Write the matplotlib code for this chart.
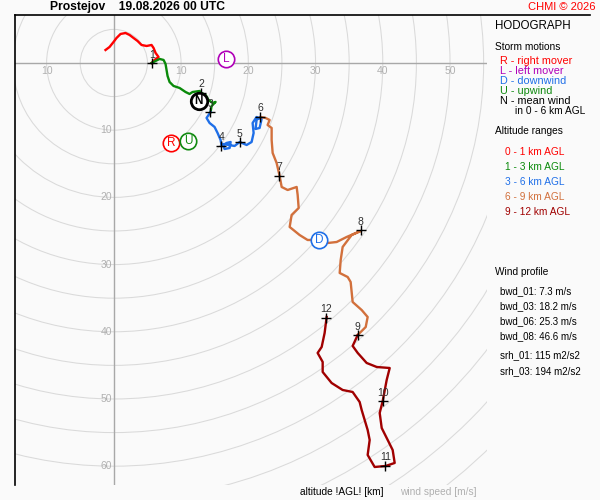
import matplotlib
matplotlib.use("Agg")
import matplotlib.pyplot as plt
from matplotlib.patches import Circle
from matplotlib.lines import Line2D

plt.rcParams['font.family'] = ['Liberation Sans', 'DejaVu Sans']

station = "Prostejov"
run_time = "19.08.2026 00 UTC"

# hodograph traces (u, v) in m/s, one pair per altitude range
u_0_1 = [-1.24, -0.64, -0.04, 0.40, 1.00, 1.74, 2.34, 2.93, 3.53, 4.12, 4.87, 5.61, 5.91, 6.21, 6.65, 6.06, 5.61]
v_0_1 = [1.93, 2.38, 3.13, 3.72, 4.32, 4.46, 4.17, 3.72, 3.27, 2.68, 2.53, 2.68, 2.23, 1.49, 0.89, 0.45, 0.0]

u_1_3 = [5.61, 6.2, 6.8, 7.4, 7.69, 7.84, 7.99, 8.29, 8.88, 9.78, 10.67, 11.26, 11.71, 12.75, 13.05,
         13.65, 14.09, 14.69, 15.13, 14.54, 14.39]
v_1_3 = [0.0, 0.3, 0.6, 0.45, -0.15, -1.04, -1.93, -2.83, -3.42, -3.72, -4.32, -4.61, -4.32, -4.17, -4.46,
         -4.76, -5.51, -5.95, -5.8, -6.4, -7.29]

u_3_6 = [14.39, 13.79, 14.24, 14.98, 15.43, 15.88, 16.03, 16.77, 17.37, 17.22, 16.47, 16.18, 17.07, 17.96,
         18.71, 19.75, 20.49, 20.79, 20.64, 21.23, 21.98, 21.68, 21.08, 21.23, 21.82]
v_3_6 = [-7.29, -8.18, -8.93, -9.52, -10.42, -11.46, -12.35, -11.9, -11.76, -12.65, -12.8, -12.05, -12.2, -12.35,
         -11.76, -12.2, -11.76, -10.42, -8.93, -8.04, -8.33, -9.67, -9.82, -8.48, -8.04]

u_6_9 = [21.83, 22.57, 23.17, 22.87, 23.47, 23.47, 23.62, 24.21, 24.66, 24.96, 25.85, 27.19, 27.34, 27.49,
         26.44, 26.15, 27.63, 28.82, 30.46, 31.8, 33.14, 34.63, 36.71, 35.37, 34.03, 33.74, 33.59, 34.78,
         35.22, 35.37, 35.52, 36.86, 37.75, 37.46, 36.27]
v_6_9 = [-8.04, -8.18, -8.48, -9.23, -9.67, -11.46, -13.39, -14.88, -16.82, -18.45, -18.9, -18.45, -19.64, -21.58,
         -22.62, -24.4, -25.6, -26.34, -26.34, -26.79, -26.64, -25.89, -25.0, -25.6, -27.38, -29.32, -31.25, -31.85,
         -32.59, -34.08, -35.57, -36.76, -37.8, -39.29, -40.48]

u_9_12 = [36.27, 35.52, 36.27, 37.6, 39.1, 41.03, 40.58, 39.99, 39.54, 39.84, 40.73, 41.47, 41.77, 40.43,
          38.79, 37.75, 38.05, 37.75, 36.86, 36.56, 35.52, 34.03, 32.39, 31.06, 31.06, 30.31, 30.91, 31.35, 31.65]
v_9_12 = [-40.48, -42.11, -43.15, -44.64, -45.24, -45.39, -47.17, -50.3, -52.08, -54.32, -56.1, -57.59, -59.52, -59.97,
          -60.12, -58.33, -56.1, -54.61, -51.64, -50.45, -48.96, -48.66, -47.62, -45.98, -44.49, -43.15, -42.26, -40.18, -37.8]

# wind at every km AGL
km_labels = ["1", "2", "3", "4", "5", "6", "7", "8", "9", "10", "11", "12"]
km_u = [5.65, 13.0, 14.35, 15.98, 18.7, 21.8, 24.6, 36.7, 36.3, 40.0, 40.4, 31.6]
km_v = [-0.04, -4.4, -7.34, -12.3, -11.8, -8.0, -16.8, -24.9, -40.5, -50.3, -59.9, -37.9]

# storm motions
storm_letters = ["R", "U", "L", "N", "D"]
storm_u = [8.54, 11.1, 16.67, 12.6, 30.5]
storm_v = [-11.95, -11.55, 0.64, -5.7, -26.3]
storm_colors = ['#ff0000', '#108a10', '#b000b8', '#000000', '#1f6fe8']

seg_colors = ['#ff0000', '#0a8a0a', '#1f6fe8', '#d2703c', '#a00000']

wind_profile = ["bwd_01: 7.3 m/s", "bwd_03: 18.2 m/s", "bwd_06: 25.3 m/s", "bwd_08: 46.6 m/s"]
helicity = ["srh_01: 115 m2/s2", "srh_03: 194 m2/s2"]

bg = '#fafafa'
fig = plt.figure(figsize=(6, 5), dpi=100, facecolor=bg)
ax = fig.add_axes([15 / 600, 15 / 500, 472 / 600, 470 / 500], facecolor=bg)
ax.set_xlim(-14.7, 55.5)
ax.set_ylim(-62.8, 7.14)
ax.set_xticks([])
ax.set_yticks([])
for s in ['right', 'bottom', 'top']:
    ax.spines[s].set_visible(False)
ax.spines['left'].set_color('black')
ax.spines['left'].set_linewidth(1.2)

# top frame line runs over the side panel too
fig.add_artist(Line2D([15 / 600, 590 / 600], [485 / 500, 485 / 500], color='black', lw=1.2))

# speed rings
for r in range(5, 90, 5):
    ax.add_patch(Circle((0, 0), r, fill=False, color='#dadada', lw=0.75, zorder=1))
ax.axhline(0, color='#a8a8a8', lw=1, zorder=2)
ax.axvline(0, color='#a8a8a8', lw=1, zorder=2)

for t in [-10, 10, 20, 30, 40, 50]:
    ax.text(t, -1.25, str(abs(t)), color='#b0b0b0', fontsize=7.5, ha='center', va='center', zorder=2)
for t in [-10, -20, -30, -40, -50, -60]:
    ax.text(-0.3, t, str(abs(t)), color='#b0b0b0', fontsize=7.5, ha='right', va='center', zorder=2)

# hodograph
traces = [(u_0_1, v_0_1), (u_1_3, v_1_3), (u_3_6, v_3_6), (u_6_9, v_6_9), (u_9_12, v_9_12)]
for (u, v), c in zip(traces, seg_colors):
    ax.plot(u, v, color=c, lw=1.7, zorder=3, solid_joinstyle='round')

ax.scatter(km_u, km_v, marker='+', s=60, color='black', linewidths=1, zorder=5)
for lab, u, v in zip(km_labels, km_u, km_v):
    ax.annotate(lab, (u, v), xytext=(0, 2.5), textcoords='offset points', ha='center', va='bottom',
                fontsize=7.5, color='#303030', zorder=6)

for lab, u, v, c in zip(storm_letters, storm_u, storm_v, storm_colors):
    lw = 2 if lab == "N" else 1.2
    ax.scatter([u], [v], marker='o', s=140, facecolors='white', edgecolors=c, linewidths=lw, zorder=7)
    ax.text(u, v, lab, color=c, fontsize=8.5, ha='center', va='center', zorder=8,
            fontweight='bold' if lab == "N" else 'normal')

# header
fig.text(50 / 600, 1 - 7 / 500, station + "    " + run_time, fontsize=8.7, fontweight='bold',
         ha='left', va='center')
fig.text(596 / 600, 1 - 7 / 500, "CHMI \u00a9 2026", fontsize=8, color='#ff0000', ha='right', va='center')

# side panel
def side(x, y, s, c='black', size=7.3):
    fig.text(x / 600, 1 - y / 500, s, color=c, fontsize=size, ha='left', va='center')

side(495, 26, "HODOGRAPH", size=8.3)
side(495, 47, "Storm motions")
side(500, 61, "R - right mover", '#ff0000', 7.8)
side(500, 71, "L - left mover", '#b000b8', 7.8)
side(500, 81, "D - downwind", '#1f6fe8', 7.8)
side(500, 91, "U - upwind", '#108a10', 7.8)
side(500, 101, "N - mean wind", size=7.8)
side(515, 111, "in 0 - 6 km AGL")
side(495, 131, "Altitude ranges")
alt_labels = ["0 - 1 km AGL", "1 - 3 km AGL", "3 - 6 km AGL", "6 - 9 km AGL", "9 - 12 km AGL"]
for i, (lab, c) in enumerate(zip(alt_labels, seg_colors)):
    side(505, 152 + 15 * i, lab, c)
side(495, 272, "Wind profile")
for i, s in enumerate(wind_profile):
    side(500, 291 + 15 * i, s, size=7.0)
for i, s in enumerate(helicity):
    side(500, 355 + 16 * i, s, size=7.0)

fig.text(300 / 600, 1 - 492 / 500, "altitude !AGL! [km]", fontsize=7.3, ha='left', va='center')
fig.text(400 / 600, 1 - 492 / 500, "wind speed [m/s]", fontsize=7.3, color='#b0b0b0', ha='left', va='center')

fig.savefig("out.png", dpi=100, facecolor=bg)
